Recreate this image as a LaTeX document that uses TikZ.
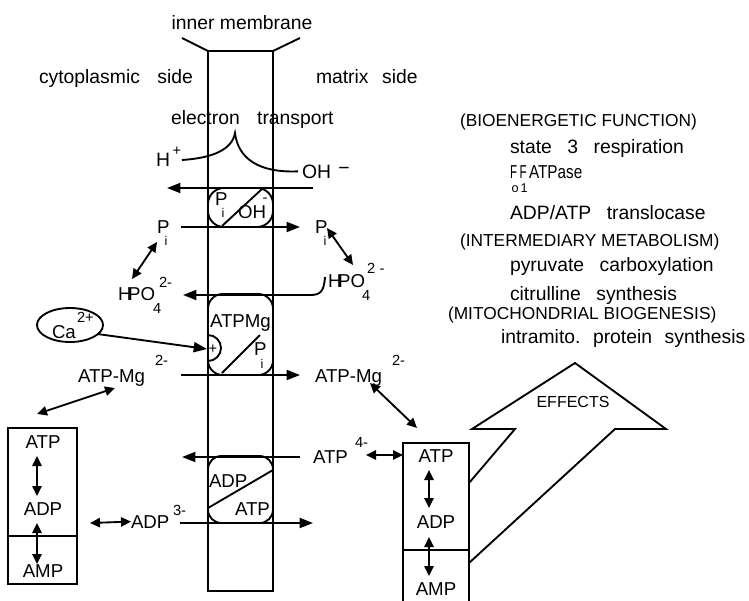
\documentclass[tikz,border=0pt]{standalone}
\usepackage{fontspec}
\usepackage{graphicx}
\setmainfont{Liberation Sans}
\usetikzlibrary{arrows.meta,shapes.geometric}
\newcommand{\wsp}{\hspace{0.8em}}
\begin{document}
\begin{tikzpicture}[x=0.75pt,y=-0.75pt,
  every node/.style={inner sep=0pt,outer sep=0pt},
  txt/.style={font=\fontsize{14.5}{17}\selectfont,anchor=base west},
  lab/.style={font=\fontsize{14}{16}\selectfont,anchor=base west},
  hdr/.style={font=\fontsize{13}{15}\selectfont,anchor=base west},
  sml/.style={font=\fontsize{11}{13}\selectfont,anchor=base west},
  tiny/.style={font=\fontsize{9.5}{11}\selectfont,anchor=base west},
  ln/.style={line width=1.4pt},
  arr/.style={ln,-{Triangle[length=10pt,width=7.5pt]}},
  dbl/.style={ln,{Triangle[length=7.5pt,width=7pt]}-{Triangle[length=7.5pt,width=7pt]}},
  boxn/.style={draw,ln,minimum width=48.75pt},
]
\useasboundingbox (0,0) rectangle (749,600);
\clip (0,0) rectangle (749,600);

% membrane
\node[boxn,minimum height=405pt] (mem) at (240.5,321) {};
\coordinate (fl) at (182,38);
\coordinate (fr) at (300,38);
\draw[ln] (fl) -- (mem.north west);
\draw[ln] (mem.north east) -- (fr);

\node[txt,anchor=base] (inner) at (242,29) {inner membrane};
\node[txt] (cyto) at (39,83) {cytoplasmic\hspace{0.9em}side};
\node[txt] (matrix) at (316,83) {matrix\hspace{0.7em}side};
\node[txt] (etr) at (171,124) {electron\hspace{0.9em}transport};

% H+ / OH-
\node[txt] (h) at (156,166) {H};
\node[sml,anchor=center] (hplus) at (177,151) {+};
\node[txt] (oh) at (302,178) {OH};
\node[txt,anchor=center] (ohm) at (344,171) {−};
\coordinate (hs) at (182,160);
\coordinate (cusp) at (235,133);
\draw[ln] (hs) .. controls (212,158) and (232,150) .. (cusp)
  .. controls (238,158) and (258,173) .. ([xshift=-3pt]oh.west);

% arrow 1
\coordinate (a1s) at (313,188);
\coordinate (a1e) at (167,188);
\draw[arr] (a1s) -- (a1e);

% carrier 1
\node[boxn,minimum height=29.25pt,rounded corners=12pt] (c1) at (240.5,207.5) {};
\coordinate (d1a) at (222,226);
\coordinate (d1b) at (262,189);
\draw[ln] (d1a) -- (d1b);
\node[lab] (c1p) at (215,205) {P};
\node[tiny,anchor=base] (c1i) at (223,217) {i};
\node[lab] (c1oh) at (238,218) {OH};
\node[sml,anchor=center] (c1m) at (265,200) {-};

% arrow 2 and P_i
\node[lab] (pl) at (157,233) {P};
\node[tiny,anchor=base] (pli) at (166,245) {i};
\node[lab] (pr) at (315,233) {P};
\node[tiny,anchor=base] (pri) at (325,245) {i};
\coordinate (a2s) at (181,227);
\coordinate (a2e) at (300,227);
\draw[arr] (a2s) -- (a2e);

% P <-> HPO4
\coordinate (dl1) at (157,242);
\coordinate (dl2) at (132,279);
\draw[dbl] (dl1) -- (dl2);
\coordinate (dr1) at (327,228);
\coordinate (dr2) at (353,265);
\draw[dbl] (dr1) -- (dr2);

\node[lab] (hpol) at (118,300) {H\kern-2.5pt PO};
\node[sml] (hpol4) at (153,313) {4};
\node[sml] (hpol2) at (159,287) {2-};
\node[lab] (hpor) at (328,287) {H\kern-2.5pt PO};
\node[sml] (hpor4) at (362,300) {4};
\node[sml] (hpor2) at (367,273) {2\hspace{0.3em}-};

% arrow 3
\coordinate (a3s) at (325,277);
\coordinate (a3e) at (183,295);
\draw[arr] (a3s) .. controls (324,292) and (320,295) .. (310,295) -- (a3e);

% carrier 2
\node[boxn,minimum height=60.75pt,rounded corners=11pt] (c2) at (240.5,334.5) {};
\node[lab] (atpmg) at (210,327) {ATPMg};
\coordinate (semitop) at (208,335);
\draw[ln] (semitop) arc[start angle=90,end angle=-90,radius=9.75pt];
\node[sml,anchor=center] (plus) at (213,349) {+};
\coordinate (d2a) at (222,373);
\coordinate (d2b) at (260,335);
\draw[ln] (d2a) -- (d2b);
\node[lab] (c2p) at (254,355) {P};
\node[tiny,anchor=base] (c2i) at (262,368) {i};

% Ca2+
\node[draw,ln,ellipse,minimum width=49.5pt,minimum height=25.5pt] (ca) at (70,325) {};
\node[lab] (catext) at (52,338) {Ca};
\node[sml] (ca2) at (77,322) {2+};
\coordinate (cae) at (207,349);
\draw[arr] (ca.-18) -- (cae);

% ATP-Mg
\node[lab] (amgl) at (78,382) {ATP-Mg};
\node[sml] (amgl2) at (155,365) {2-};
\node[lab] (amgr) at (315,382) {ATP-Mg};
\node[sml] (amgr2) at (392,365) {2-};
\coordinate (a4s) at (181,375);
\coordinate (a4e) at (300,375);
\draw[arr] (a4s) -- (a4e);
\coordinate (dm1) at (115,388);
\coordinate (dm2) at (37,414);
\draw[dbl] (dm1) -- (dm2);
\coordinate (dm3) at (370,383);
\coordinate (dm4) at (417,428);
\draw[dbl] (dm3) -- (dm4);

% left box
\node[boxn,minimum width=51.75pt,minimum height=117pt] (lbox) at (42.5,506) {};
\coordinate (ldiv) at (0,536);
\draw[ln] (lbox.west |- ldiv) -- (lbox.east |- ldiv);
\node[lab,anchor=base] (latp) at (43,448) {ATP};
\node[lab,anchor=base] (ladp) at (43,515) {ADP};
\node[lab,anchor=base] (lamp) at (43,577) {AMP};
\coordinate (lb1) at (37,456);
\coordinate (lb2) at (37,496);
\coordinate (lb3) at (37,523);
\coordinate (lb4) at (37,564);
\draw[dbl] (lb1) -- (lb2);
\draw[dbl] (lb3) -- (lb4);

% ADP 3-
\coordinate (ad1) at (90,523);
\node[lab] (adp3) at (131,528) {ADP};
\node[sml] (adp33) at (173,515) {3-};
\draw[dbl] (ad1) -- (adp3.west);
\coordinate (a6s) at (180,523);
\coordinate (a6e) at (313,523);
\draw[arr] (a6s) -- (a6e);

% ATP 4-
\coordinate (a5s) at (300,457);
\coordinate (a5e) at (182,457);
\draw[arr] (a5s) -- (a5e);
\node[lab] (atp4) at (313,463) {ATP};
\node[sml] (atp44) at (355,447) {4-};

% carrier 3
\node[boxn,minimum height=50.25pt,rounded corners=10pt] (c3) at (240.5,489.5) {};
\coordinate (d3a) at (208,508);
\coordinate (d3b) at (273,470);
\draw[ln] (d3a) -- (d3b);
\node[lab] (c3adp) at (209,487) {ADP};
\node[lab] (c3atp) at (235,515) {ATP};

% right box
\node[boxn,minimum width=49.5pt,minimum height=125.25pt] (rbox) at (436,526.5) {};
\coordinate (rdiv) at (0,550);
\draw[ln] (rbox.west |- rdiv) -- (rbox.east |- rdiv);
\node[lab,anchor=base] (ratp) at (436,462) {ATP};
\node[lab,anchor=base] (radp) at (436,528) {ADP};
\node[lab,anchor=base] (ramp) at (436,595) {AMP};
\coordinate (rb1) at (429,470);
\coordinate (rb2) at (429,508);
\coordinate (rb3) at (429,537);
\coordinate (rb4) at (429,576);
\draw[dbl] (rb1) -- (rb2);
\draw[dbl] (rb3) -- (rb4);
\coordinate (ra1) at (366,455);
\draw[dbl] (ra1) -- (rbox.west |- ra1);

% big arrow EFFECTS
\coordinate (e1) at (0,483);
\coordinate (e2) at (0,563);
\draw[ln,line join=miter] (rbox.east |- e1) -- (515,429) -- (472,429) -- (575,363)
  -- (666,429) -- (615,429) -- (rbox.east |- e2);
\node[font=\fontsize{12}{14}\selectfont,anchor=center] (eff) at (573,402) {EFFECTS};

% list
\node[hdr] (l1) at (460,126) {(BIOENERGETIC FUNCTION)};
\node[txt] (l2) at (510,153) {state\wsp 3\wsp respiration};
\node[font=\fontsize{14}{16}\selectfont,anchor=base west] (l3f1) at (510,178) {\scalebox{0.62}[1]{F}};
\node[font=\fontsize{14}{16}\selectfont,anchor=base west] (l3f2) at (519.5,178) {\scalebox{0.62}[1]{F}};
\node[font=\fontsize{14}{16}\selectfont,anchor=base west] (l3) at (529,178) {\scalebox{0.82}[1]{ATPase}};
\node[tiny] (l3o) at (511.5,192) {o};
\node[tiny] (l3one) at (520.5,192) {1};
\node[txt] (l4) at (510,219) {ADP/ATP\wsp translocase};
\node[hdr] (l5) at (460,246) {(INTERMEDIARY METABOLISM)};
\node[txt] (l6) at (510,271) {pyruvate\wsp carboxylation};
\node[txt] (l7) at (510,300) {citrulline\wsp synthesis};
\node[hdr] (l8) at (448,319) {(MITOCHONDRIAL BIOGENESIS)};
\node[txt] (l9) at (501,343) {intramito.\hspace{0.65em}protein\hspace{0.65em}synthesis};
\end{tikzpicture}
\end{document}
